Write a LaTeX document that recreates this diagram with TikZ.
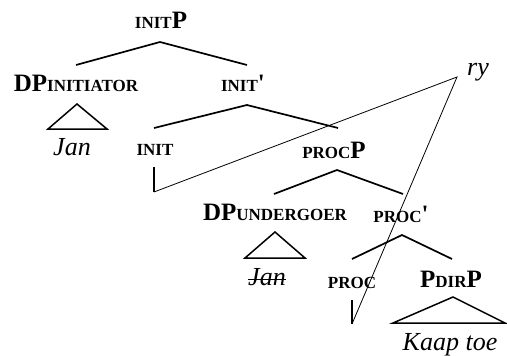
\documentclass[tikz,border=0pt]{standalone}
\usepackage{fontspec}
\setmainfont{Liberation Serif}
\usepackage{tikz}
\usetikzlibrary{positioning,calc}

\newcommand{\skap}[1]{{\fontsize{17}{17}\selectfont #1}} % small-cap style labels

\begin{document}
\begin{tikzpicture}[
  x=1pt, y=-1pt,                      % pixel-like grid, y grows downwards
  every node/.style={inner sep=0pt, anchor=base},
  cat/.style={font=\fontsize{25}{25}\selectfont\bfseries},   % category labels
  word/.style={font=\fontsize{26}{26}\selectfont\itshape},   % lexical items
  branch/.style={line width=1.7pt},
  trace/.style={line width=0.8pt}
]
\useasboundingbox (0,0) rectangle (507,356);

% labels
\node[cat] (initP)   at (161,28)  {\skap{INIT}P};
\node[cat] (dpi)     at (76,91)   {DP\skap{INITIATOR}};
\node[cat] (initbar) at (243,92)  {\skap{INIT}\textquotesingle};
\node[word] (jan1)   at (72,155)  {Jan};
\node[cat] (init)    at (155,155) {\skap{INIT}};
\node[cat] (procP)   at (334,158) {\skap{PROC}P};
\node[cat] (dpu)     at (275,220) {DP\skap{UNDERGOER}};
\node[cat] (procbar) at (401,222) {\skap{PROC}\textquotesingle};
\node[word] (jan2)   at (267,285) {Jan};
\node[cat] (proc)    at (352,288) {\skap{PROC}};
\node[cat] (pdirP)   at (451,287) {P\skap{DIR}P};
\node[word] (kaap)   at (450,350) {Kaap toe};
\node[word] (ry)     at (478,75)  {ry};

% branch points
\coordinate (initP-t) at (160,42);
\coordinate (dpi-t)   at (76,65);
\coordinate (initbar-t) at (247,65);
\coordinate (initbar-b) at (247,105);
\coordinate (init-t)  at (154,128);
\coordinate (procP-t) at (338,128);
\coordinate (procP-b) at (337,170);
\coordinate (dpu-t)   at (274,194);
\coordinate (procbar-t) at (403,194);
\coordinate (procbar-b) at (402,235);
\coordinate (proc-t)  at (352,259);
\coordinate (pdirP-t) at (452,259);
\coordinate (init-a)  at (154,167);
\coordinate (init-z)  at (154,192);
\coordinate (proc-a)  at (352,300);
\coordinate (proc-z)  at (352,324);
\coordinate (ry-pt)   at (457,77);

% tree
\draw[branch] (dpi-t) -- (initP-t) -- (initbar-t);
\draw[branch] (init-t) -- (initbar-b) -- (procP-t);
\draw[branch] (dpu-t) -- (procP-b) -- (procbar-t);
\draw[branch] (proc-t) -- (procbar-b) -- (pdirP-t);
\draw[branch] (init-a) -- (init-z);
\draw[branch] (proc-a) -- (proc-z);

% triangles
\draw[line width=1.5pt] (77,104) -- (48,129) -- (107,129) -- cycle;
\draw[line width=1.5pt] (275,232) -- (245,258) -- (305,258) -- cycle;
\draw[line width=1.5pt] (453,297) -- (393,323) -- (505,323) -- cycle;

% struck-out copy
\draw[line width=0.9pt] ([yshift=6pt]jan2.base west) -- ([yshift=6pt]jan2.base east);

% ry lines
\draw[trace] (init-z) -- (ry-pt) -- (proc-z);
\end{tikzpicture}
\end{document}
